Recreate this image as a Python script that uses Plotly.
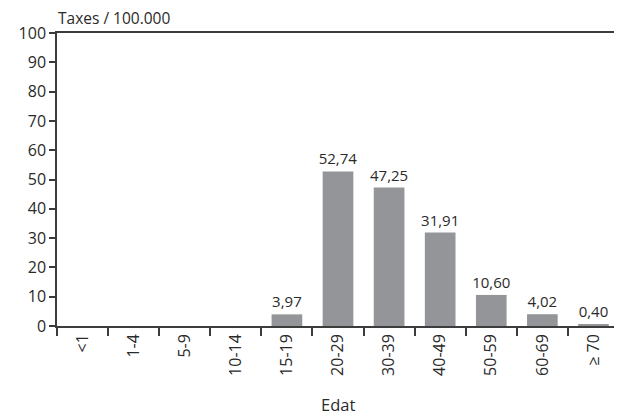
import plotly.graph_objects as go

categories = ["<1", "1-4", "5-9", "10-14", "15-19", "20-29", "30-39", "40-49", "50-59", "60-69", "≥ 70"]
values = [0, 0, 0, 0, 3.97, 52.74, 47.25, 31.91, 10.60, 4.02, 0.40]
labels = ["", "", "", "", "3,97", "52,74", "47,25", "31,91", "10,60", "4,02", "0,40"]

font = "Open Sans"
axis_color = "#3c3c3c"
text_color = "#2a2a2a"

fig = go.Figure(go.Bar(
    x=categories, y=values, text=labels, textposition="outside",
    constraintext="none",
    textfont=dict(family=font, size=15, color=text_color),
    marker=dict(color="#939598", line=dict(width=0)),
    cliponaxis=False,
))

fig.update_layout(
    width=614, height=408,
    margin=dict(l=49, r=1, t=25, b=90),
    paper_bgcolor="white", plot_bgcolor="white",
    bargap=0.4, showlegend=False,
    separators=",.",
    font=dict(family=font, size=16, color=text_color),
    xaxis=dict(
        type="category", tickson="boundaries", ticks="outside", ticklen=8,
        tickwidth=1.5, tickcolor=axis_color, tickangle=-90,
        showline=True, linecolor=axis_color, linewidth=1.5, mirror=True,
        tickfont=dict(family=font, size=16, color=text_color),
        showgrid=False,
    ),
    yaxis=dict(
        range=[0, 100], dtick=10, ticks="outside", ticklen=6, tickwidth=1.5,
        tickcolor=axis_color, showline=True, linecolor=axis_color, linewidth=1.5,
        mirror=True, showgrid=False, zeroline=False,
        tickfont=dict(family=font, size=16, color=text_color),
    ),
    annotations=[
        dict(text="Taxes / 100.000", xref="paper", yref="paper", x=0, y=1,
             xanchor="left", yanchor="bottom", yshift=3, borderpad=0, showarrow=False,
             font=dict(family=font, size=15.5, color=text_color)),
        dict(text="Edat", xref="paper", yref="paper", x=0.5, y=0,
             xanchor="center", yanchor="top", yshift=-66, borderpad=0, showarrow=False,
             font=dict(family=font, size=16.5, color=text_color)),
    ],
)

fig.write_html("out.html")
